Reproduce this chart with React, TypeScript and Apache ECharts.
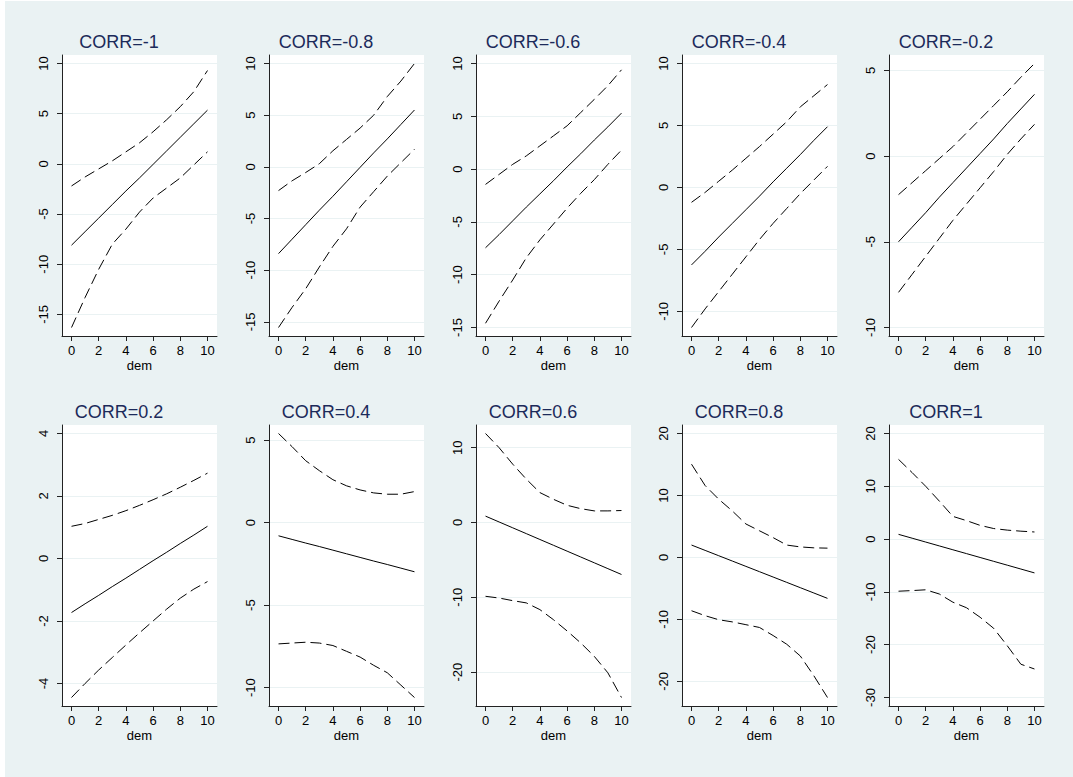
import React, { useEffect, useRef } from "react";
import * as echarts from "echarts";

// x values (dem)
const DEM = [0, 1, 2, 3, 4, 5, 6, 7, 8, 9, 10];
const X_TICKS = [0, 2, 4, 6, 8, 10];

const TITLES = [
  "CORR=-1", "CORR=-0.8", "CORR=-0.6", "CORR=-0.4", "CORR=-0.2",
  "CORR=0.2", "CORR=0.4", "CORR=0.6", "CORR=0.8", "CORR=1",
];

// y tick labels per panel
const Y_TICKS_M10 = [-15, -10, -5, 0, 5, 10];
const Y_TICKS_M08 = [-15, -10, -5, 0, 5, 10];
const Y_TICKS_M06 = [-15, -10, -5, 0, 5, 10];
const Y_TICKS_M04 = [-10, -5, 0, 5, 10];
const Y_TICKS_M02 = [-10, -5, 0, 5];
const Y_TICKS_P02 = [-4, -2, 0, 2, 4];
const Y_TICKS_P04 = [-10, -5, 0, 5];
const Y_TICKS_P06 = [-20, -10, 0, 10];
const Y_TICKS_P08 = [-20, -10, 0, 10, 20];
const Y_TICKS_P10 = [-30, -20, -10, 0, 10, 20];

// CORR = -1
const FIT_M10 = [-8.1, -6.75, -5.4, -4.05, -2.7, -1.4, -0.05, 1.3, 2.65, 4.0, 5.35];
const UP_M10 = [-2.2, -1.3, -0.5, 0.3, 1.2, 2.1, 3.2, 4.4, 5.7, 7.2, 9.3];
const LO_M10 = [-16.3, -13.3, -10.5, -8.0, -6.5, -4.8, -3.4, -2.4, -1.4, -0.1, 1.2];
// CORR = -0.8
const FIT_M08 = [-8.4, -7.0, -5.6, -4.2, -2.85, -1.45, -0.05, 1.35, 2.7, 4.1, 5.5];
const UP_M08 = [-2.3, -1.35, -0.55, 0.3, 1.55, 2.65, 3.75, 5.0, 6.8, 8.3, 10.0];
const LO_M08 = [-15.55, -13.6, -11.8, -9.7, -7.7, -6.0, -3.9, -2.4, -0.9, 0.4, 1.7];
// CORR = -0.6
const FIT_M06 = [-7.45, -6.2, -4.9, -3.6, -2.35, -1.1, 0.2, 1.45, 2.75, 4.0, 5.3];
const UP_M06 = [-1.45, -0.5, 0.45, 1.25, 2.2, 3.15, 4.1, 5.35, 6.6, 7.9, 9.4];
const LO_M06 = [-14.6, -12.5, -10.5, -8.4, -6.7, -5.2, -3.7, -2.3, -1.0, 0.45, 1.8];
// CORR = -0.4
const FIT_M04 = [-6.25, -5.15, -4.0, -2.9, -1.8, -0.7, 0.45, 1.55, 2.65, 3.8, 4.9];
const UP_M04 = [-1.2, -0.4, 0.5, 1.4, 2.35, 3.3, 4.3, 5.3, 6.5, 7.4, 8.3];
const LO_M04 = [-11.3, -9.8, -8.4, -7.0, -5.6, -4.2, -2.9, -1.7, -0.5, 0.6, 1.7];
// CORR = -0.2
const FIT_M02 = [-5.0, -4.15, -3.3, -2.4, -1.55, -0.7, 0.15, 1.0, 1.9, 2.75, 3.6];
const UP_M02 = [-2.25, -1.55, -0.85, -0.15, 0.55, 1.35, 2.15, 2.95, 3.75, 4.6, 5.4];
const LO_M02 = [-7.95, -6.9, -5.85, -4.8, -3.75, -2.8, -1.85, -0.9, 0.1, 1.0, 1.85];
// CORR = 0.2
const FIT_P02 = [-1.73, -1.45, -1.18, -0.9, -0.63, -0.35, -0.07, 0.2, 0.48, 0.75, 1.03];
const UP_P02 = [1.03, 1.12, 1.25, 1.38, 1.53, 1.7, 1.88, 2.07, 2.28, 2.5, 2.73];
const LO_P02 = [-4.45, -4.0, -3.57, -3.17, -2.77, -2.38, -2.0, -1.62, -1.27, -0.98, -0.74];
// CORR = 0.4
const FIT_P04 = [-0.8, -1.02, -1.24, -1.45, -1.67, -1.89, -2.11, -2.33, -2.54, -2.76, -2.98];
const UP_P04 = [5.4, 4.6, 3.75, 3.15, 2.6, 2.23, 1.98, 1.8, 1.72, 1.72, 1.88];
const LO_P04 = [-7.35, -7.3, -7.25, -7.3, -7.45, -7.8, -8.15, -8.65, -9.1, -9.85, -10.6];
// CORR = 0.6
const FIT_P06 = [0.85, 0.07, -0.71, -1.49, -2.27, -3.05, -3.83, -4.61, -5.39, -6.17, -6.95];
const UP_P06 = [11.9, 10.0, 7.8, 5.8, 4.0, 3.1, 2.3, 1.85, 1.55, 1.55, 1.6];
const LO_P06 = [-9.87, -10.1, -10.45, -10.75, -11.65, -13.0, -14.5, -16.1, -17.9, -20.1, -23.4];
// CORR = 0.8
const FIT_P08 = [2.0, 1.14, 0.28, -0.58, -1.44, -2.3, -3.16, -4.02, -4.88, -5.74, -6.6];
const UP_P08 = [15.05, 11.6, 9.4, 7.5, 5.4, 4.3, 3.2, 2.0, 1.7, 1.55, 1.5];
const LO_P08 = [-8.6, -9.4, -10.05, -10.4, -10.85, -11.3, -12.6, -14.0, -15.9, -19.1, -22.6];
// CORR = 1
const FIT_P10 = [0.9, 0.17, -0.56, -1.29, -2.02, -2.75, -3.48, -4.21, -4.94, -5.67, -6.4];
const UP_P10 = [15.1, 12.6, 10.0, 7.2, 4.3, 3.5, 2.6, 2.0, 1.7, 1.5, 1.35];
const LO_P10 = [-9.87, -9.75, -9.6, -10.4, -11.95, -13.0, -14.8, -16.9, -20.2, -23.7, -24.6];

const PANELS = [
  { fit: FIT_M10, up: UP_M10, lo: LO_M10, ticks: Y_TICKS_M10 },
  { fit: FIT_M08, up: UP_M08, lo: LO_M08, ticks: Y_TICKS_M08 },
  { fit: FIT_M06, up: UP_M06, lo: LO_M06, ticks: Y_TICKS_M06 },
  { fit: FIT_M04, up: UP_M04, lo: LO_M04, ticks: Y_TICKS_M04 },
  { fit: FIT_M02, up: UP_M02, lo: LO_M02, ticks: Y_TICKS_M02 },
  { fit: FIT_P02, up: UP_P02, lo: LO_P02, ticks: Y_TICKS_P02 },
  { fit: FIT_P04, up: UP_P04, lo: LO_P04, ticks: Y_TICKS_P04 },
  { fit: FIT_P06, up: UP_P06, lo: LO_P06, ticks: Y_TICKS_P06 },
  { fit: FIT_P08, up: UP_P08, lo: LO_P08, ticks: Y_TICKS_P08 },
  { fit: FIT_P10, up: UP_P10, lo: LO_P10, ticks: Y_TICKS_P10 },
];

const COL_LEFT = [62, 269, 476, 682, 889];
const ROW_TOP = [55, 425];
const PLOT_W = 155;
const PLOT_H = 281;
const FONT = '"Liberation Sans", Arial, Helvetica, sans-serif';
const AXIS_COLOR = "#222";
const BG = "#eaf2f3";
const TITLE_COLOR = "#1c2a5a";
const TICK_FS = 13;

function buildOption() {
  const grid: any[] = [];
  const xAxis: any[] = [];
  const yAxis: any[] = [];
  const series: any[] = [];
  const graphic: any[] = [
    { type: "rect", shape: { x: 0, y: 0, width: 5, height: 777 }, style: { fill: "#fff" }, silent: true },
    { type: "rect", shape: { x: 0, y: 0, width: 1073, height: 1 }, style: { fill: "#fff" }, silent: true },
  ];

  PANELS.forEach((p, i) => {
    const row = Math.floor(i / 5);
    const col = i % 5;
    const left = COL_LEFT[col];
    const top = ROW_TOP[row];
    grid.push({
      left, top, width: PLOT_W, height: PLOT_H,
      show: true, backgroundColor: "#ffffff", borderWidth: 0,
      containLabel: false,
    });

    const all = [...p.fit, ...p.up, ...p.lo, ...p.ticks];
    const lo = Math.min(...all);
    const hi = Math.max(...all);
    const pad = (hi - lo) * (8.5 / (PLOT_H - 17));

    xAxis.push({
      gridIndex: i, type: "value", min: -0.7, max: 10.7,
      axisLine: { show: true, onZero: false, lineStyle: { color: AXIS_COLOR, width: 1 } },
      axisTick: { show: true, length: 5, customValues: X_TICKS, lineStyle: { color: AXIS_COLOR, width: 1 } },
      axisLabel: { show: true, customValues: X_TICKS, fontSize: TICK_FS, fontFamily: FONT, color: "#000", margin: 8 },
      splitLine: { show: false },
      name: "dem", nameLocation: "middle", nameGap: 23,
      nameTextStyle: { fontSize: TICK_FS, fontFamily: FONT, color: "#000" },
    });
    yAxis.push({
      gridIndex: i, type: "value", min: lo - pad, max: hi + pad,
      axisLine: { show: true, onZero: false, lineStyle: { color: AXIS_COLOR, width: 1 } },
      axisTick: { show: true, length: 5, customValues: p.ticks, lineStyle: { color: AXIS_COLOR, width: 1 } },
      axisLabel: { show: true, customValues: p.ticks, rotate: 90, fontSize: TICK_FS, fontFamily: FONT, color: "#000", margin: 12.5 },
      splitLine: { show: true, lineStyle: { color: BG, width: 1 } },
    });

    const mk = (vals: number[], dashed: boolean) => ({
      type: "line", xAxisIndex: i, yAxisIndex: i,
      data: DEM.map((d, k) => [d, vals[k]]),
      showSymbol: false, symbol: "none",
      lineStyle: dashed
        ? { color: "#000", width: 1, type: [11, 5] }
        : { color: "#000", width: 1, type: "solid" },
      silent: true,
    });
    series.push(mk(p.up, true));
    series.push(mk(p.fit, false));
    series.push(mk(p.lo, true));

    graphic.push({
      type: "text",
      x: left + 57,
      y: row === 0 ? 42 : 412,
      style: {
        text: TITLES[i],
        fill: TITLE_COLOR,
        font: `18px ${FONT}`,
        fontSize: 18,
        fontFamily: FONT,
        textAlign: "center",
        textVerticalAlign: "middle",
        align: "center",
        verticalAlign: "middle",
      },
      silent: true,
    });
  });

  return {
    animation: false,
    backgroundColor: BG,
    grid, xAxis, yAxis, series, graphic,
  };
}

export default function App() {
  const ref = useRef<HTMLDivElement>(null);
  useEffect(() => {
    if (!ref.current) return;
    const chart = echarts.init(ref.current, undefined, { renderer: "svg" });
    chart.setOption(buildOption() as any);
    return () => chart.dispose();
  }, []);
  return (
    <div
      ref={ref}
      style={{ position: "fixed", left: 0, top: 0, width: 1073, height: 777 }}
    />
  );
}
